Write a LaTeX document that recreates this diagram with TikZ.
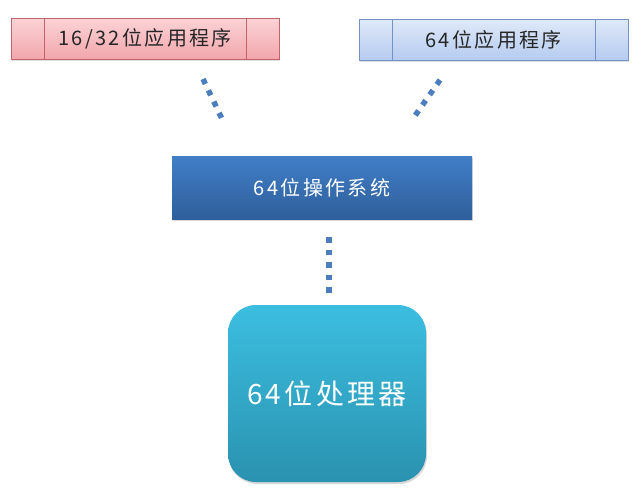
\documentclass[tikz,border=0pt]{standalone}
\usepackage{fontspec}
\setmainfont{Noto Sans CJK SC}
\newfontfamily\sfont[LetterSpace=12]{Noto Sans CJK SC}
\usetikzlibrary{shadows}
\definecolor{dotblue}{HTML}{4A7EBE}
\definecolor{redtop}{HTML}{FBD3D6}
\definecolor{redbot}{HTML}{F2A6AC}
\definecolor{redline}{HTML}{C2646C}
\definecolor{bluetop}{HTML}{DFE9F8}
\definecolor{bluebot}{HTML}{B5CBF0}
\definecolor{blueline}{HTML}{7392C8}
\definecolor{ostop}{HTML}{407EC6}
\definecolor{osbot}{HTML}{2F5F9C}
\definecolor{cputop}{HTML}{3CBEE0}
\definecolor{cpubot}{HTML}{2A92B0}
\tikzset{
  appbox/.style={draw, line width=0.8pt, inner sep=0pt, drop shadow={opacity=0.25, shadow xshift=1pt, shadow yshift=-2pt}},
  redapp/.style={appbox, draw=redline, top color=redtop, bottom color=redbot, minimum width=268pt, minimum height=41pt, text=black!85},
  blueapp/.style={appbox, draw=blueline, top color=bluetop, bottom color=bluebot, minimum width=269pt, minimum height=41pt, text=black!85},
  osbox/.style={inner sep=0pt, top color=ostop, bottom color=osbot, minimum width=300pt, minimum height=63pt, text=white, drop shadow={opacity=0.3, shadow xshift=1pt, shadow yshift=-2pt}},
  cpubox/.style={inner sep=0pt, rounded corners=28pt, top color=cputop, bottom color=cpubot, minimum width=198pt, minimum height=177pt, text=white, drop shadow={opacity=0.3, shadow xshift=1pt, shadow yshift=-2pt}},
  divider/.style={line width=0.8pt},
  dotline/.style={draw=dotblue, line width=5.5pt, dash pattern=on 5.5pt off 7pt}
}
\begin{document}
\begin{tikzpicture}[x=1pt,y=-1pt]
\useasboundingbox (0,0) rectangle (642,496);
\fill[white] (0,0) rectangle (642,496);
% app boxes
\node[redapp] (r) at (145,38.5) {\fontsize{20}{24}\sfont 16/32位应用程序};
\draw[divider, draw=redline] ([xshift=34pt]r.north west) -- ([xshift=34pt]r.south west);
\draw[divider, draw=redline] ([xshift=-33pt]r.north east) -- ([xshift=-33pt]r.south east);
\node[blueapp] (b) at (493.5,39.5) {\fontsize{20}{24}\sfont 64位应用程序};
\draw[divider, draw=blueline] ([xshift=34pt]b.north west) -- ([xshift=34pt]b.south west);
\draw[divider, draw=blueline] ([xshift=-33pt]b.north east) -- ([xshift=-33pt]b.south east);
% os
\node[osbox] (os) at (322,187.5) {\fontsize{20}{24}\sfont 64位操作系统};
% cpu
\node[cpubox] (cpu) at (327,393.5) {\fontsize{28}{34}\sfont 64位处理器};
% dotted connectors
\coordinate (l1) at (203,79);
\coordinate (l2) at (223,121);
\coordinate (r1) at (440,80);
\coordinate (r2) at (412,120);
\coordinate (v1) at (329,237);
\coordinate (v2) at (329,298);
\draw[dotline] (l1) -- (l2);
\draw[dotline] (r1) -- (r2);
\draw[dotline] (v1) -- (v2);
\end{tikzpicture}
\end{document}
